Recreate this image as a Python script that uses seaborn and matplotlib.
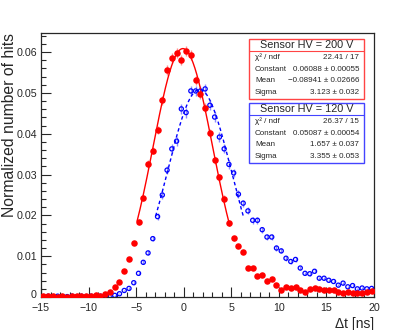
import numpy as np
import pandas as pd
import seaborn as sns
import matplotlib.pyplot as plt
import matplotlib.transforms as mtransforms
from matplotlib.patches import Rectangle
from matplotlib.ticker import MultipleLocator

sns.set_style("ticks")
plt.rcParams['font.family'] = ['Liberation Sans', 'DejaVu Sans']

#%% Data (bin width 0.5 ns, -15 .. 20 ns)
bin_centers = np.arange(-14.75, 20.0, 0.5)

hits_200V = [0.0002, 0.0002, 0.0003, 0.0001, 0.0002, 0.0001, 0.0002, 0.0002, 0.0002, 0.0003,
             0.0003, 0.0005, 0.0003, 0.0007, 0.0013, 0.0024, 0.0037, 0.0063, 0.0094, 0.0132,
             0.0184, 0.0242, 0.0326, 0.0359, 0.0410, 0.0482, 0.0557, 0.0586, 0.0599, 0.0581,
             0.0602, 0.0592, 0.0531, 0.0497, 0.0464, 0.0402, 0.0335, 0.0293, 0.0241, 0.0181,
             0.0144, 0.0125, 0.0111, 0.0072, 0.0072, 0.0052, 0.0054, 0.0038, 0.0043, 0.0030,
             0.0018, 0.0025, 0.0023, 0.0024, 0.0016, 0.0012, 0.0019, 0.0021, 0.0020, 0.0017,
             0.0016, 0.0016, 0.0013, 0.0011, 0.0012, 0.0011, 0.0011, 0.0010, 0.0012, 0.0015]

hits_120V = [0.0001, 0.0002, 0.0001, 0.0002, 0.0001, 0.0001, 0.0002, 0.0001, 0.0002, 0.0001,
             0.0002, 0.0001, 0.0002, 0.0002, 0.0003, 0.0004, 0.0008, 0.0016, 0.0021, 0.0035,
             0.0058, 0.0085, 0.0108, 0.0143, 0.0197, 0.0250, 0.0311, 0.0363, 0.0382, 0.0461,
             0.0452, 0.0505, 0.0505, 0.0505, 0.0510, 0.0470, 0.0441, 0.0392, 0.0363, 0.0325,
             0.0304, 0.0252, 0.0230, 0.0211, 0.0188, 0.0188, 0.0165, 0.0147, 0.0147, 0.0120,
             0.0113, 0.0095, 0.0087, 0.0092, 0.0071, 0.0058, 0.0057, 0.0063, 0.0046, 0.0046,
             0.0041, 0.0038, 0.0029, 0.0034, 0.0025, 0.0028, 0.0020, 0.0022, 0.0020, 0.0021]

# entries used for the statistical error bars
entries_200V = 40000
entries_120V = 30000

# Gaussian fit results (constant, mean, sigma) and fit ranges
fit_200V = (0.06088, -0.08941, 3.123)
fit_120V = (0.05087, 1.657, 3.355)
range_200V = (-4.9, 4.85)
range_120V = (-2.95, 6.3)

stats_200V = [("χ² / ndf", "22.41 / 17"),
              ("Constant", "0.06088 ± 0.00055"),
              ("Mean", "−0.08941 ± 0.02666"),
              ("Sigma", "3.123 ± 0.032")]
stats_120V = [("χ² / ndf", "26.37 / 15"),
              ("Constant", "0.05087 ± 0.00054"),
              ("Mean", "1.657 ± 0.037"),
              ("Sigma", "3.355 ± 0.053")]

y_ticks = [0, 0.01, 0.02, 0.03, 0.04, 0.05, 0.06]
y_ticklabels = ["0", "0.01", "0.02", "0.03", "0.04", "0.05", "0.06"]
x_ticks = [-15, -10, -5, 0, 5, 10, 15, 20]

df = pd.DataFrame({"dt": bin_centers, "h200": hits_200V, "h120": hits_120V})
df["e200"] = np.sqrt(df["h200"] / entries_200V)
df["e120"] = np.sqrt(df["h120"] / entries_120V)


def gauss_curve(pars, rng):
    c, m, s = pars
    x = np.linspace(rng[0], rng[1], 200)
    return pd.DataFrame({"x": x, "y": c * np.exp(-0.5 * ((x - m) / s) ** 2)})


#%% Plot
fig = plt.figure(figsize=(4.15, 3.3), dpi=100)
ax = fig.add_axes([41 / 415, 33 / 330, 333 / 415, 264 / 330])

# error bars (drawn lighter, like ROOT's)
ax.errorbar(df["dt"], df["h120"], yerr=df["e120"], fmt="none", ecolor="blue", alpha=0.45, lw=1)
ax.errorbar(df["dt"], df["h200"], yerr=df["e200"], fmt="none", ecolor="red", alpha=0.45, lw=1)

sns.scatterplot(data=df, x="dt", y="h120", ax=ax, marker="o", s=9,
                facecolors="none", edgecolor="blue", linewidth=0.9, zorder=3)
sns.scatterplot(data=df, x="dt", y="h200", ax=ax, marker="o", s=22,
                color="red", edgecolor="red", linewidth=0, zorder=3)

c200 = gauss_curve(fit_200V, range_200V)
c120 = gauss_curve(fit_120V, range_120V)
sns.lineplot(data=c200, x="x", y="y", ax=ax, color="red", lw=1, zorder=4)
sns.lineplot(data=c120, x="x", y="y", ax=ax, color="blue", lw=1,
             linestyle=(0, (2.5, 2)), zorder=4)

ax.set_xlim(-15, 20)
ax.set_ylim(0, 0.0647)
ax.set_xticks(x_ticks)
ax.set_yticks(y_ticks)
ax.set_yticklabels(y_ticklabels)
ax.xaxis.set_minor_locator(MultipleLocator(1))
ax.yaxis.set_minor_locator(MultipleLocator(0.002))
ax.tick_params(which="major", direction="in", length=7, width=0.8, labelsize=7.7, pad=3)
ax.tick_params(axis="x", which="major", pad=4)
ax.tick_params(which="minor", direction="in", length=3.5, width=0.8)
for sp in ax.spines.values():
    sp.set_linewidth(0.9)

# lift the "0" label a little so it clears "-15"
zero_lbl = ax.get_yticklabels()[0]
zero_lbl.set_transform(zero_lbl.get_transform() +
                       mtransforms.ScaledTranslation(0, 3 / 100, fig.dpi_scale_trans))

ax.set_xlabel("")
ax.set_ylabel("")
fig.text(374 / 415, 1 - 317 / 330, "Δt [ns]", ha="right", va="top", fontsize=10)
fig.text(10 / 415, 1 - 33 / 330, "Normalized number of hits", rotation=90,
         ha="center", va="top", fontsize=11.3)


#%% Stat boxes
def stat_box(top_px, color, title, rows):
    x0, x1 = 249, 364
    h_title, h_row = 12, 11.7
    bottom = top_px + h_title + 4 * h_row + 1
    rect = Rectangle((x0 / 415, 1 - bottom / 330), (x1 - x0) / 415, (bottom - top_px) / 330,
                     transform=fig.transFigure, facecolor="white", edgecolor=color, lw=1, zorder=10)
    fig.patches.append(rect)
    line_y = 1 - (top_px + h_title) / 330
    fig.add_artist(plt.Line2D([x0 / 415, x1 / 415], [line_y, line_y], transform=fig.transFigure,
                              color=color, lw=0.8, zorder=11))
    fig.text((x0 + x1) / 2 / 415, 1 - (top_px + h_title / 2 + 0.5) / 330, title,
             ha="center", va="center", fontsize=7.8, zorder=12)
    for i, (lab, val) in enumerate(rows):
        yy = 1 - (top_px + h_title + h_row * (i + 0.5) + 0.5) / 330
        fig.text(255 / 415, yy, lab, ha="left", va="center", fontsize=5.8, zorder=12)
        fig.text(359 / 415, yy, val, ha="right", va="center", fontsize=5.8, zorder=12)


stat_box(39, "#ff4444", "Sensor HV = 200 V", stats_200V)
stat_box(103, "#4444ff", "Sensor HV = 120 V", stats_120V)

fig.savefig("out.png", dpi=100)
